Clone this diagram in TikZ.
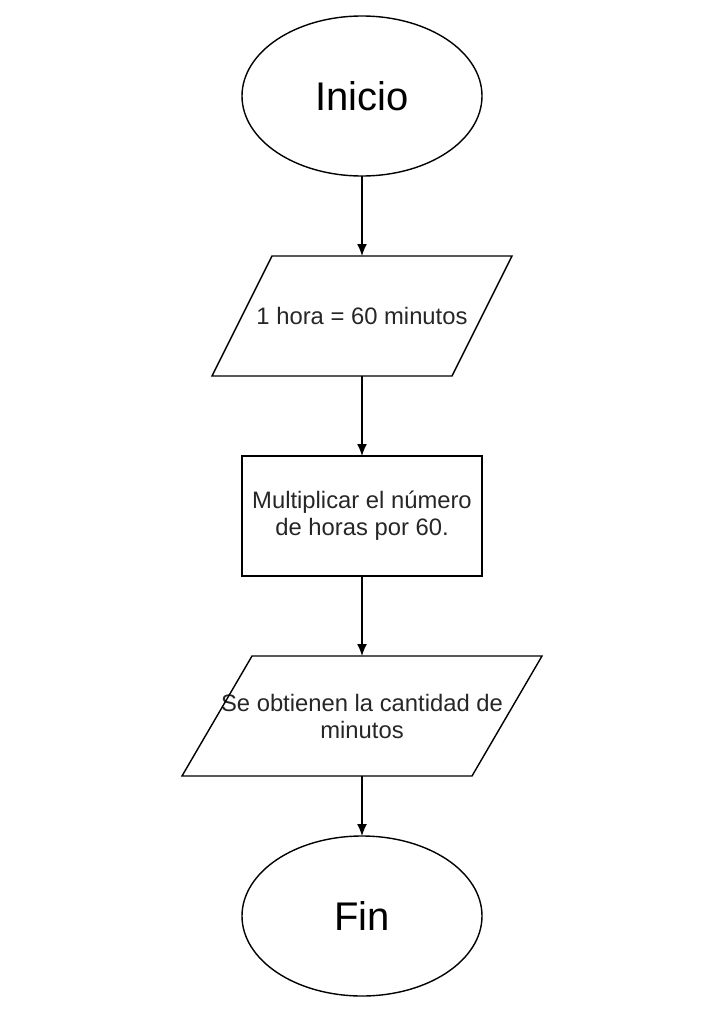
\documentclass[tikz,border=0pt]{standalone}
\usepackage{fontspec}
\setmainfont{Liberation Sans}
\usetikzlibrary{positioning,shapes.geometric,arrows.meta}

\begin{document}
\begin{tikzpicture}[x=1pt,y=-1pt,node distance=80pt,
    every node/.style={line width=1.4pt,outer sep=0pt,font=\fontsize{23.8}{27}\selectfont},
    terminal/.style={ellipse,draw,minimum width=240pt,minimum height=160pt,inner sep=0pt,font=\fontsize{40}{48}\selectfont},
    inout/.style={rectangle,minimum height=120pt,inner sep=0pt,align=center,text=black!85},
    proc/.style={rectangle,draw,minimum width=240pt,minimum height=120pt,inner sep=2pt,align=center,text=black!85}]
        \useasboundingbox (0,0) rectangle (716,1017);
        \node[terminal] (inicio) at (362,96) {Inicio};
        \node[inout,minimum width=240pt,below=of inicio] (hora) {1 hora = 60 minutos};
        \node[proc,below=of hora] (mult) {Multiplicar el número\\de horas por 60.};
        \node[inout,minimum width=290pt,below=of mult] (minutos) {Se obtienen la cantidad de\\minutos};
        \node[terminal,below=60pt of minutos] (fin) {Fin};

        % slanted sides of the input/output boxes
        \foreach \n/\s in {hora/30pt,minutos/35pt}
          \draw[line width=1.4pt,line join=miter]
            ([xshift=\s]\n.north west) -- ([xshift=\s]\n.north east)
            -- ([xshift=-\s]\n.south east) -- ([xshift=-\s]\n.south west) -- cycle;

        \path[->,line width=1.4pt,>={Latex[length=12pt,width=10pt]}]
        (inicio) edge (hora)
        (hora) edge (mult)
        (mult) edge (minutos)
        (minutos) edge (fin);
\end{tikzpicture}
\end{document}
